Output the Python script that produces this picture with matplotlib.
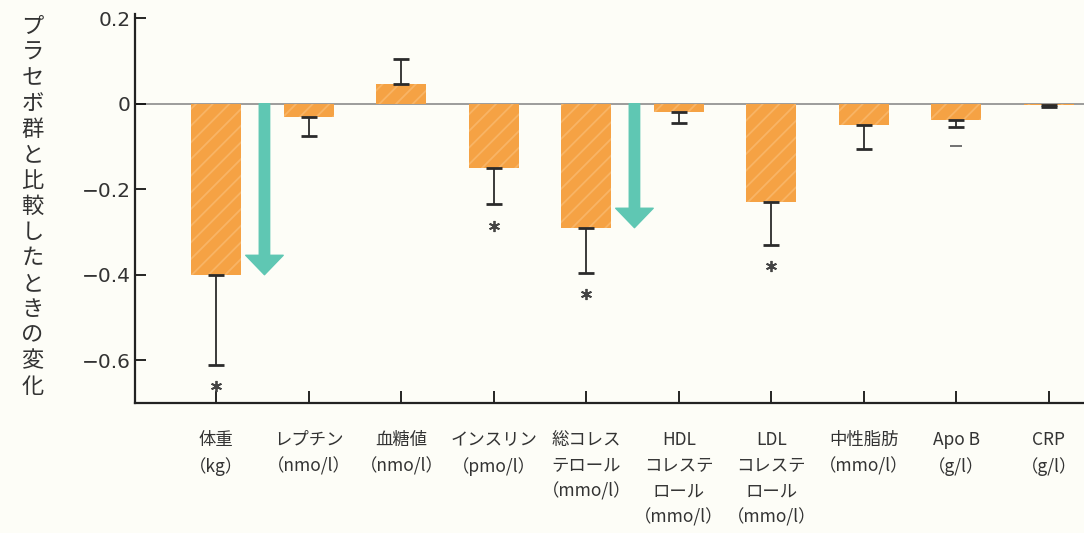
import matplotlib
matplotlib.use('Agg')
import matplotlib.pyplot as plt
import numpy as np

plt.rcParams['font.family'] = ['Noto Sans CJK JP', 'DejaVu Sans']
plt.rcParams['hatch.linewidth'] = 1.3

# ---- data ----
categories = ['体重\n（kg）', 'レプチン\n（nmo/l）', '血糖値\n（nmo/l）', 'インスリン\n（pmo/l）',
              '総コレス\nテロール\n（mmo/l）', 'HDL\nコレステ\nロール\n（mmo/l）',
              'LDL\nコレステ\nロール\n（mmo/l）', '中性脂肪\n（mmo/l）', 'Apo B\n（g/l）', 'CRP\n（g/l）']
values = [-0.40, -0.03, 0.045, -0.15, -0.29, -0.02, -0.23, -0.05, -0.037, -0.004]
errors = [0.21, 0.045, 0.06, 0.085, 0.105, 0.025, 0.10, 0.057, 0.017, 0.004]
marks = ['*', '', '', '*', '*', '', '*', '', '-', '']
arrow_after = [0, 4]
yticks = [0.2, 0, -0.2, -0.4, -0.6]
ytick_labels = ['0.2', '0', '−0.2', '−0.4', '−0.6']
ylabel = 'プラセボ群と比較したときの変化'

BG = '#fdfdf7'
ORANGE = '#f5a244'
HATCH = '#f8b465'
TEAL = '#5fc7b3'

fig = plt.figure(figsize=(10.84, 5.33), dpi=100, facecolor=BG)
ax = fig.add_axes([0.1245, 0.2439, 0.8755, 0.730], facecolor=BG)

x = np.arange(len(categories))
vals = np.array(values)
errs = np.array(errors)
lower = np.where(vals < 0, errs, 0)
upper = np.where(vals >= 0, errs, 0)

ax.axhline(0, color='#8c8c8c', lw=1.2, zorder=1)
ax.bar(x, vals, width=0.54, color=ORANGE, edgecolor=HATCH, hatch='//', linewidth=0, zorder=2)
ax.errorbar(x, vals, yerr=[lower, upper], fmt='none', ecolor='#2b2b2b', elinewidth=1.3,
            capsize=6, capthick=2, zorder=3)

# significance marks
for xi, v, e, m in zip(x, vals, errs, marks):
    if not m:
        continue
    yend = v - e if v < 0 else v + e
    if m == '*':
        ax.plot(xi, yend - 0.05, marker=(6, 2, 0), ms=8, mew=1.3, color='#444444', zorder=4)
    else:
        ax.plot(xi, yend - 0.045, marker='_', ms=8, mew=1.3, color='#666666', zorder=4)

# teal arrows
for i in arrow_after:
    ax.annotate('', xy=(i + 0.52, values[i]), xytext=(i + 0.52, 0),
                arrowprops=dict(arrowstyle='simple,head_length=1.4,head_width=2.7,tail_width=0.75',
                                mutation_scale=10, color=TEAL, shrinkA=0, shrinkB=0), zorder=5)

ax.set_xlim(-0.88, 9.38)
ax.set_ylim(-0.70, 0.21)
ax.set_yticks(yticks)
ax.set_yticklabels(ytick_labels, fontsize=14.5, color='#333333', family='DejaVu Sans')
ax.set_xticks(x)
ax.set_xticklabels(categories, fontsize=12.5, color='#333333', linespacing=1.55)

for s in ['top', 'right']:
    ax.spines[s].set_visible(False)
for s in ['left', 'bottom']:
    ax.spines[s].set_linewidth(1.6)
    ax.spines[s].set_color('#222222')

ax.tick_params(axis='y', direction='in', length=8, width=1.2, pad=3)
ax.tick_params(axis='x', direction='in', length=9, width=1.2, pad=20)

fig.text(0.03, 0.613, '\n'.join(ylabel), ha='center', va='center', fontsize=16,
         color='#333333', linespacing=1.15)

fig.savefig('out.png', dpi=100, facecolor=BG)
